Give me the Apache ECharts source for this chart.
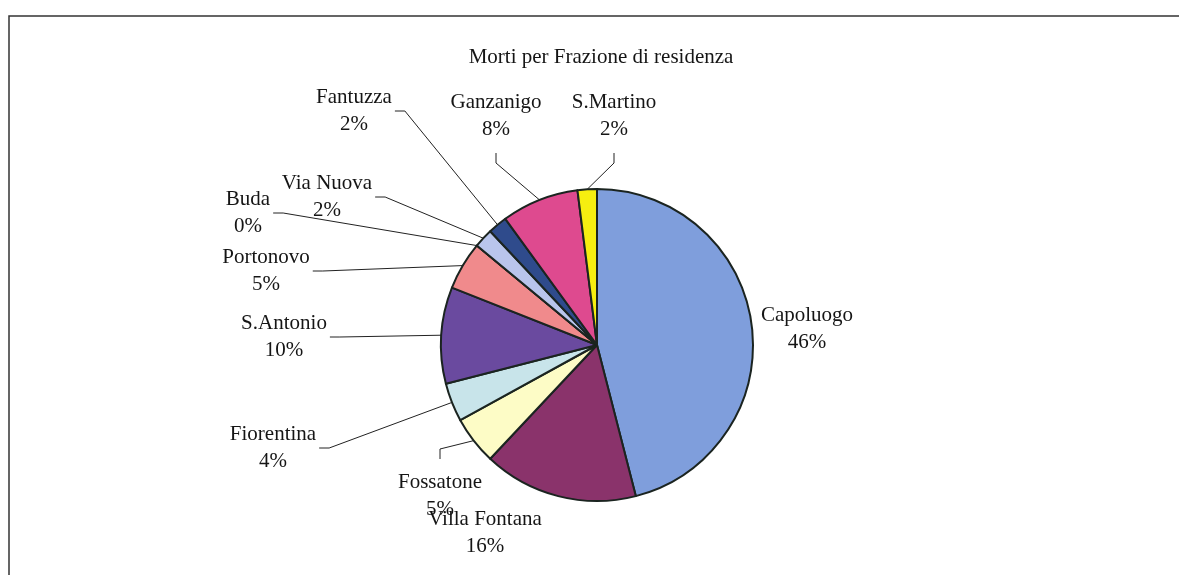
<!DOCTYPE html>
<html>
<head>
<meta charset="utf-8">
<title>Morti per Frazione di residenza</title>
<script src="https://cdn.jsdelivr.net/npm/echarts/dist/echarts.min.js"></script>
<style>
  html, body { margin: 0; padding: 0; background: #fff; }
  #chart { width: 1179px; height: 575px; }
</style>
</head>
<body>
<div id="chart"></div>
<script>
// dati (percentuali)
const categories = ['Capoluogo', 'Villa Fontana', 'Fossatone', 'Fiorentina', 'S.Antonio',
  'Portonovo', 'Buda', 'Via Nuova', 'Fantuzza', 'Ganzanigo', 'S.Martino']
const percentages = [46, 16, 5, 4, 10, 5, 0, 2, 2, 8, 2]

const sliceColors = ['#7f9edc', '#8a336b', '#fdfcc6', '#c8e4ea', '#6a4a9f',
  '#f08a8c', '#2f6fc0', '#b9c5ec', '#2f4b8c', '#de4a8f', '#f6ee10']

// posizione (centro) delle etichette, come nel foglio originale
const labelPos = [[807, 329], [485, 533], [440, 496], [273, 448], [284, 337],
  [266, 271], [248, 213], [327, 197], [354, 111], [496, 116], [614, 116]]
const noLeader = ['Capoluogo', 'Villa Fontana']

const serif = '"Liberation Serif", "Times New Roman", serif'

const chart = echarts.init(document.getElementById('chart'))
chart.setOption({
  animation: false,
  backgroundColor: '#fff',
  graphic: [
    {
      type: 'rect',
      shape: { x: 9, y: 16, width: 1200, height: 620 },
      style: { fill: 'none', stroke: '#333', lineWidth: 1.5 }
    },
    {
      type: 'text',
      x: 601,
      y: 57,
      style: {
        text: 'Morti per Frazione di residenza',
        font: '21px ' + serif,
        fill: '#151515',
        align: 'center',
        verticalAlign: 'middle'
      }
    }
  ],
  series: [{
    type: 'pie',
    center: [597, 345],
    radius: 156,
    startAngle: 90,
    clockwise: true,
    avoidLabelOverlap: false,
    itemStyle: { borderColor: '#1b2420', borderWidth: 2 },
    label: {
      show: true,
      formatter: p => p.name + '\n' + p.value + '%',
      fontFamily: serif,
      fontSize: 21,
      lineHeight: 27,
      color: '#151515',
      padding: [10, 3]
    },
    labelLine: {
      show: true,
      length: 10,
      length2: 10,
      lineStyle: { color: '#222', width: 1 }
    },
    labelLayout: params => ({
      x: labelPos[params.dataIndex][0],
      y: labelPos[params.dataIndex][1],
      align: 'center',
      verticalAlign: 'middle'
    }),
    emphasis: { disabled: true },
    data: categories.map((name, i) => ({
      name: name,
      value: percentages[i],
      itemStyle: { color: sliceColors[i] },
      labelLine: { show: !noLeader.includes(name) }
    }))
  }]
})
</script>
</body>
</html>
